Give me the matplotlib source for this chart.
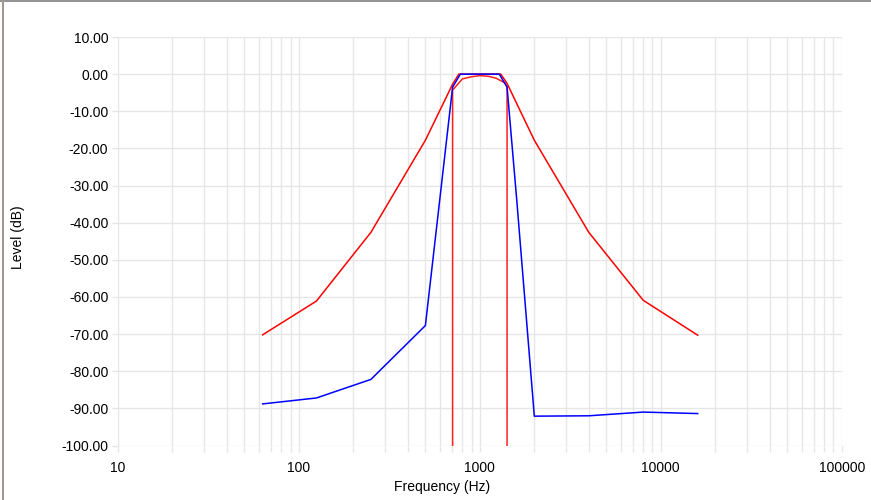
import matplotlib
matplotlib.use("Agg")
import matplotlib.pyplot as plt
from matplotlib.lines import Line2D
from matplotlib.ticker import FixedLocator, LogLocator, NullFormatter, FuncFormatter

plt.rcParams['font.family'] = ['Liberation Sans', 'DejaVu Sans']

# wide red response
red_freq = [63, 125, 250, 500, 707, 765, 1000, 1306, 1414, 2000, 4000, 8000, 16000]
red_level = [-70.2, -61.1, -42.6, -17.8, -2.7, 0.0, 0.0, 0.0, -2.5, -17.8, -42.6, -60.9, -70.3]

# steep blue response
blue_freq = [63, 125, 250, 500, 707, 780, 1000, 1280, 1414, 1600, 2000, 4000, 8000, 16000]
blue_level = [-88.8, -87.2, -82.2, -67.7, -3.5, 0.0, 0.0, 0.0, -3.5, -34.0, -92.1, -92.0, -91.0, -91.4]

# ideal band (inner red)
band_freq = [707, 707, 800, 900, 1000, 1120, 1230, 1380, 1414, 1414]
band_level = [-100.0, -4.3, -1.3, -0.7, -0.4, -0.6, -1.1, -2.4, -3.5, -100.0]

x_ticks = [10, 100, 1000, 10000, 100000]
y_ticks = list(range(-100, 11, 10))

grid_c = '#e6e6e6'
fs = 10

fig = plt.figure(figsize=(8.71, 5.0), dpi=100)
ax = fig.add_axes([118 / 871, 1 - 445.5 / 500, (841.7 - 118) / 871, (445.5 - 37) / 500])

ax.plot(red_freq, red_level, color='#ff0000', lw=1.1, zorder=3)
ax.plot(blue_freq, blue_level, color='#0000ff', lw=1.1, zorder=4)
ax.plot(band_freq, band_level, color='#ff2020', lw=1.1, zorder=3)

ax.set_xscale('log')
ax.set_xlim(10, 100000)
ax.set_ylim(-100, 10)
ax.xaxis.set_major_locator(FixedLocator(x_ticks))
ax.xaxis.set_major_formatter(FuncFormatter(lambda v, p: f'{v:.0f}'))
ax.xaxis.set_minor_locator(LogLocator(base=10, subs=range(2, 10)))
ax.xaxis.set_minor_formatter(NullFormatter())
ax.set_yticks(y_ticks)
ax.yaxis.set_major_formatter(FuncFormatter(lambda v, p: f'{v:.2f}'))

ax.grid(True, which='both', color=grid_c, lw=1.0)
ax.set_axisbelow(True)
for s in ax.spines.values():
    s.set_visible(False)
ax.tick_params(axis='both', which='both', color=grid_c, width=1.0, labelsize=fs, labelcolor='black')
ax.tick_params(axis='x', which='both', length=4, pad=7)
ax.tick_params(axis='y', length=4, pad=3)

fig.text(442 / 871, 1 - 487 / 500, 'Frequency (Hz)', fontsize=fs, ha='center', va='center')
fig.text(18 / 871, 1 - 237 / 500, 'Level (dB)', fontsize=fs, ha='center', va='center', rotation=90)

# window border
fig.add_artist(Line2D([0, 1], [0.999, 0.999], color='#7f7f7f', lw=1.2, transform=fig.transFigure))
fig.add_artist(Line2D([3 / 871, 3 / 871], [0, 1], color='#a09890', lw=1.5, transform=fig.transFigure))

fig.savefig('out.png', dpi=100)
